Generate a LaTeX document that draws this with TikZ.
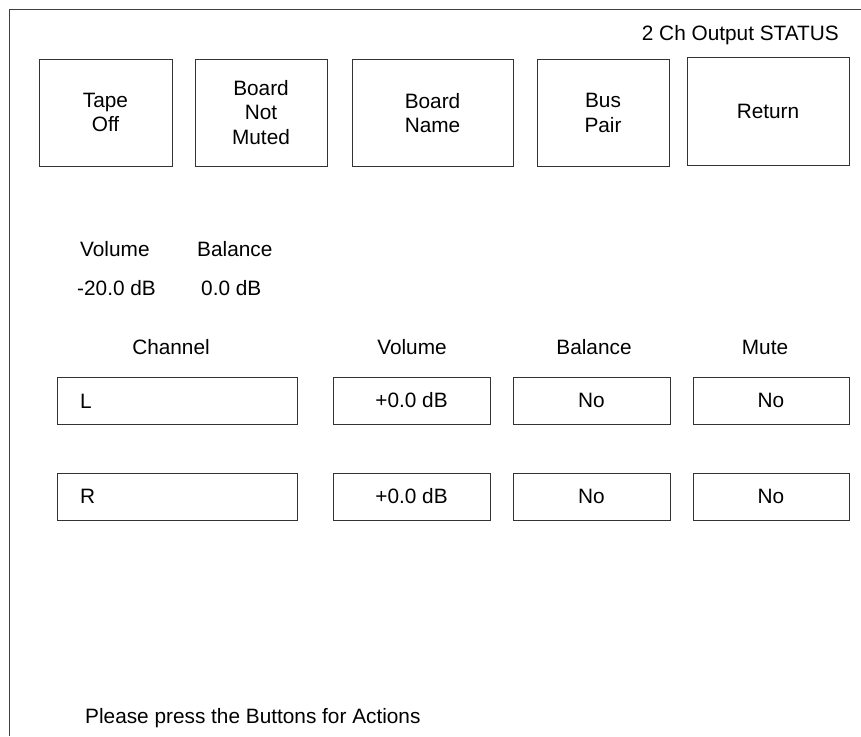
\documentclass[tikz,border=0pt]{standalone}
\usepackage{fontspec}
\setmainfont{Liberation Sans}
\begin{document}
\begin{tikzpicture}[x=1pt,y=-1pt,
  every node/.style={font=\fontsize{20.8}{24.5}\selectfont, text=black},
  frameline/.style={draw=black!75, line width=1pt},
  btn/.style={draw=black!80, line width=1pt, rectangle, inner sep=0pt, minimum height=107pt, align=center},
  cell/.style={draw=black!80, line width=1pt, rectangle, inner sep=0pt, minimum height=47pt},
  lbl/.style={inner sep=0pt, anchor=base west},
  hdr/.style={inner sep=0pt, anchor=base}]
\useasboundingbox (0,0) rectangle (861,736);
\coordinate (ftop) at (861,9);
\coordinate (fcorner) at (9,9);
\coordinate (fbot) at (9,736);
\draw[frameline] (ftop) -- (fcorner) -- (fbot);
\node[inner sep=0pt, anchor=base east] (title) at (839,40) {2 Ch Output STATUS};
\node[btn, minimum width=133pt] (tape) at (105.5,112.5) {Tape\\Off};
\node[btn, minimum width=132pt] (mute) at (261,112.5) {Board\\Not\\Muted};
\node[btn, minimum width=161pt] (bname) at (432.5,113) {Board\\Name};
\node[btn, minimum width=132pt] (bus) at (603,113) {Bus\\Pair};
\node[btn, minimum width=162pt, minimum height=108pt] (ret) at (768,111) {Return};
\node[lbl] (volh) at (80,256) {Volume};
\node[lbl] (balh) at (197,256) {Balance};
\node[lbl] (volv) at (77,295) {-20.0 dB};
\node[lbl] (balv) at (201,295) {0.0 dB};
\node[hdr] (chh) at (171,354) {Channel};
\node[hdr] (cvolh) at (412,354) {Volume};
\node[hdr] (cbalh) at (594,354) {Balance};
\node[hdr] (cmuteh) at (765,354) {Mute};
\node[cell, minimum width=240pt] (lch) at (177,400.5) {};
\node[lbl] (ltxt) at (80,408) {L};
\node[cell, minimum width=157pt] (lvol) at (411.5,400.5) {+0.0 dB};
\node[cell, minimum width=157pt] (lbal) at (591.5,400.5) {No};
\node[cell, minimum width=156pt] (lmute) at (771,400.5) {No};
\node[cell, minimum width=240pt] (rch) at (177,496.5) {};
\node[lbl] (rtxt) at (80,503.5) {R};
\node[cell, minimum width=157pt] (rvol) at (411.5,496.5) {+0.0 dB};
\node[cell, minimum width=157pt] (rbal) at (591.5,496.5) {No};
\node[cell, minimum width=156pt] (rmute) at (771,496.5) {No};
\node[lbl] (hint) at (85,723) {Please press the Buttons for Actions};
\end{tikzpicture}
\end{document}
